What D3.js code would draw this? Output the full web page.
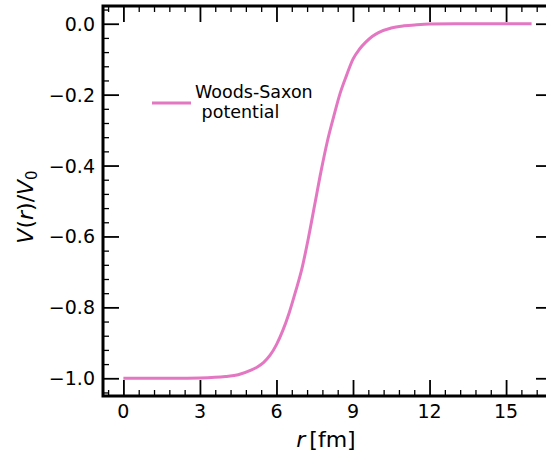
<!DOCTYPE html>
<html>
<head>
<meta charset="utf-8">
<script src="https://cdn.jsdelivr.net/npm/d3@7"></script>
<style>
  body { margin: 0; background: #fff; }
  text { font-family: 'DejaVu Sans', sans-serif; fill: #000; }
</style>
</head>
<body>
<div id="graf"></div>
<script>
// datos
r_vals = [0, 1, 2, 3, 4, 4.5, 5, 5.25, 5.5, 5.75, 6, 6.25, 6.5, 6.75, 7, 7.25, 7.5, 7.75, 8, 8.25, 8.5, 8.75, 9, 9.25, 9.5, 9.75, 10, 10.5, 11, 11.5, 12, 13, 14, 15, 16]
v_vals = [-1.0, -1.0, -1.0, -0.999, -0.995, -0.99, -0.977, -0.968, -0.955, -0.935, -0.905, -0.865, -0.815, -0.755, -0.69, -0.605, -0.51, -0.415, -0.33, -0.26, -0.195, -0.145, -0.10, -0.072, -0.052, -0.036, -0.025, -0.012, -0.006, -0.003, -0.001, 0, 0, 0, 0]
xticks = [0, 3, 6, 9, 12, 15]
yticks = [0.0, -0.2, -0.4, -0.6, -0.8, -1.0]
serie = 'Woods-Saxon'
serie2 = ' potential'

ancho_total = 546
alto_total = 456
margins = { top: 6, left: 103, right: -6, bottom: 60 }
ancho = ancho_total - margins.left - margins.right
alto = alto_total - margins.top - margins.bottom

svg = d3.select('#graf').append('svg')
  .attr('width', ancho_total)
  .attr('height', alto_total)

g = svg.append('g')
  .attr('transform', `translate(${margins.left}, ${margins.top})`)

x = d3.scaleLinear().domain([-0.8, 16.8]).range([0, ancho])
y = d3.scaleLinear().domain([-1.05, 0.05]).range([alto, 0])

fmt = d => d3.format('.1f')(d).replace('-', '\u2212')

// ticks hacia adentro en los cuatro lados
function ticks(axis, vals, size, w) {
  return g.append('g').call(axis.tickValues(vals).tickSize(size).tickSizeOuter(0))
    .call(s => s.select('.domain').remove())
    .call(s => s.selectAll('line').attr('stroke-width', w))
}
xminor = d3.range(-0.6, 16.81, 0.6).filter(v => Math.abs(v / 3 - Math.round(v / 3)) > 0.01)
yminor = d3.range(-1.04, 0.05, 0.04).filter(v => Math.abs(v / 0.2 - Math.round(v / 0.2)) > 0.01)

ticks(d3.axisTop(x).tickFormat(''), xminor, 6, 1.3).attr('transform', `translate(0,${alto})`)
ticks(d3.axisTop(x).tickFormat(''), xticks, 16, 1.8).attr('transform', `translate(0,${alto})`)
ticks(d3.axisBottom(x).tickFormat(''), xminor, 6, 1.3)
ticks(d3.axisBottom(x).tickFormat(''), xticks, 16, 1.8)
ticks(d3.axisRight(y).tickFormat(''), yminor, 6, 1.3)
ticks(d3.axisRight(y).tickFormat(''), yticks, 16, 1.8)
ticks(d3.axisLeft(y).tickFormat(''), yminor, 6, 1.3).attr('transform', `translate(${ancho},0)`)
ticks(d3.axisLeft(y).tickFormat(''), yticks, 16, 1.8).attr('transform', `translate(${ancho},0)`)

// etiquetas
g.append('g').selectAll('text').data(xticks).join('text')
  .attr('x', d => x(d)).attr('y', alto + 22)
  .attr('text-anchor', 'middle').attr('font-size', '19px')
  .text(d => d)
g.append('g').selectAll('text').data(yticks).join('text')
  .attr('x', -8).attr('y', d => y(d) + 7)
  .attr('text-anchor', 'end').attr('font-size', '19px')
  .text(d => fmt(d))

// marco
g.append('rect')
  .attr('x', 0).attr('y', 0)
  .attr('width', ancho).attr('height', alto)
  .attr('fill', 'none').attr('stroke', '#000').attr('stroke-width', 3)

// curva
linea = d3.line()
  .x((d, i) => x(r_vals[i]))
  .y(d => y(d))
  .curve(d3.curveMonotoneX)

g.append('path')
  .datum(v_vals)
  .attr('d', linea)
  .attr('fill', 'none')
  .attr('stroke', '#e377c2')
  .attr('stroke-width', 3)

// leyenda
g.append('line')
  .attr('x1', 49).attr('x2', 88).attr('y1', 97).attr('y2', 97)
  .attr('stroke', '#e377c2').attr('stroke-width', 3)
g.append('text').attr('x', 92).attr('y', 92).attr('font-size', '17.5px').text(serie)
g.append('text').attr('x', 93).attr('y', 112).attr('font-size', '17.5px')
  .attr('xml:space', 'preserve').style('white-space', 'pre').text(serie2)

// titulos de ejes
xl = svg.append('text')
  .attr('x', 326).attr('y', 447)
  .attr('text-anchor', 'middle').attr('font-size', '22px')
xl.append('tspan').attr('font-style', 'italic').text('r')
xl.append('tspan').attr('dx', 4).text('[fm]')

yl = svg.append('text')
  .attr('transform', 'translate(33, 207) rotate(-90)')
  .attr('text-anchor', 'middle').attr('font-size', '22px')
yl.append('tspan').attr('font-style', 'italic').text('V')
yl.append('tspan').text('(')
yl.append('tspan').attr('font-style', 'italic').text('r')
yl.append('tspan').text(')/')
yl.append('tspan').attr('font-style', 'italic').text('V')
yl.append('tspan').attr('font-size', '15px').attr('dy', 4).text('0')
</script>
</body>
</html>
